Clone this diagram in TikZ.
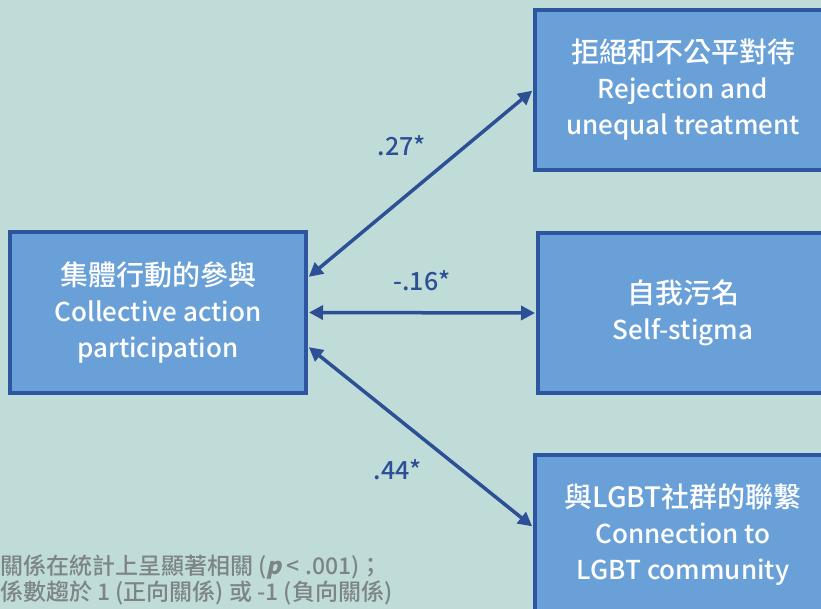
\documentclass[tikz,border=0pt]{standalone}
\usepackage{fontspec}
\setmainfont{Noto Sans CJK TC}[BoldFont={Noto Sans CJK TC Medium}]
\newfontfamily\pitfont{Noto Sans CJK TC Medium}[FakeSlant=0.22]
\usetikzlibrary{arrows.meta,calc}
\definecolor{bgc}{HTML}{C0DCD8}
\definecolor{boxfill}{HTML}{6AA0D8}
\definecolor{boxline}{HTML}{2E55A0}
\definecolor{arrowc}{HTML}{2C4F95}
\definecolor{notec}{HTML}{7C8486}
\newcommand{\zh}[1]{{\fontsize{28}{36}\selectfont #1}}
\tikzset{
  box/.style={draw=boxline, line width=4pt, fill=boxfill, text=white, align=center,
    font=\bfseries\fontsize{26}{36}\selectfont, inner sep=0pt},
  conn/.style={draw=arrowc, line width=3.5pt, {Triangle[length=14pt,width=14pt]}-{Triangle[length=14pt,width=14pt]}, shorten <=1pt, shorten >=1pt},
  coef/.style={text=arrowc, font=\bfseries\fontsize{25}{26}\selectfont},
  note/.style={text=notec, font=\bfseries\fontsize{23}{26}\selectfont, anchor=west, inner sep=0pt}
}
\begin{document}
\begin{tikzpicture}[x=1pt,y=-1pt]
\useasboundingbox (0,0) rectangle (821,609);
\clip (0,0) rectangle (821,609);
\fill[bgc] (0,0) rectangle (821,609);
\node[box, minimum width=296pt, minimum height=160pt] (L) at (158,312.5) {\zh{集體行動的參與}\\Collective action\\participation};
\node[box, minimum width=296pt, minimum height=160pt] (T) at (683,90) {\zh{拒絕和不公平對待}\\Rejection and\\unequal treatment};
\node[box, minimum width=290pt, minimum height=160pt] (M) at (683,313) {\zh{自我污名}\\Self-stigma};
\node[box, minimum width=296pt, minimum height=160pt] (B) at (683,535) {\zh{與LGBT社群的聯繫}\\Connection to\\LGBT community};
\coordinate (la) at ([yshift=35pt]L.east);
\coordinate (lb) at ([yshift=0pt]L.east);
\coordinate (lc) at ([yshift=-34pt]L.east);
\coordinate (bb) at ([yshift=8pt]B.west);
\draw[conn] (la) -- (T.west);
\draw[conn] (lb) -- (M.west);
\draw[conn] (lc) -- (bb);
\node[coef] (c1) at (402,146) {.27*};
\node[coef] (c2) at (422,281) {-.16*};
\node[coef] (c3) at (398,470) {.44*};
\node[note] (n1) at (0,567) {關係在統計上呈顯著相關 ({\pitfont p} < .001)；};
\node[note] (n2) at (0,593) {係數趨於 1 (正向關係) 或 -1 (負向關係)};
\end{tikzpicture}
\end{document}
